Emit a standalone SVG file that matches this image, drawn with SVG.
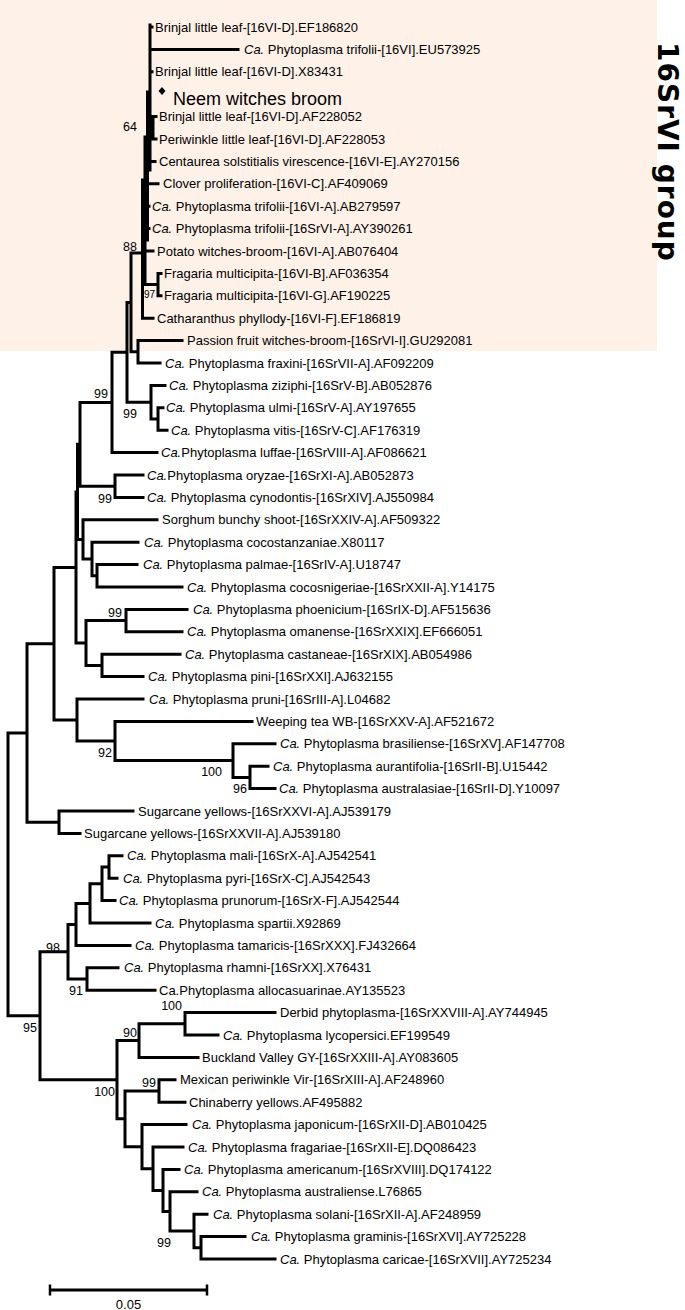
<svg xmlns="http://www.w3.org/2000/svg" width="685" height="1310" viewBox="0 0 685 1310">
<style>
.br{stroke:#000;stroke-width:3;fill:none;stroke-linecap:square}
.lb{font-family:"Liberation Sans",Arial,sans-serif;font-size:13px;fill:#000}
.bs{font-family:"Liberation Sans",Arial,sans-serif;font-size:12.5px;fill:#000;text-anchor:end}
.it{font-style:italic}
</style>
<rect x="0" y="0" width="657" height="351" fill="#FDF1E8"/>
<text transform="translate(658,42) rotate(90)" font-family="DejaVu Sans,sans-serif" font-weight="bold" font-size="28" letter-spacing="1" fill="#000">16SrVI group</text>
<g id="connectors">
<path class="br" d="M150 25V170M147.5 92V240M145 137V284.6M142.5 180V318.2
M150 49.4H238M150 27H152M150 71.8H152
M150 127.8H153M153 116.6V139M153 116.6H156M153 139H156
M150 161.4H155M147.5 183.8H158M145 206.2H149M145 228.6H149M145 251H153
M145 284.6H158M158 273.4V295.8M158 273.4H161M158 295.8H161
M142.5 318.2H153M131 253H142.5M131 253V351.8M131 351.8H138
M138 340.6V363M138 340.6H182M138 363H160
M127 302.4H131M127 302.4V402.2M127 402.2H151
M151 385.4V419M151 385.4H165M151 419H158
M158 407.8V430.2M158 407.8H163M158 430.2H167
M112 352.3H127M112 352.3V452.6M112 452.6H157
M80 402.45H112M80 402.45V486.2M80 486.2H115
M115 475V497.4M115 475H143M115 497.4H143
M77.5 444.3H80M77.5 444.3V539.4M77.5 539.4H83
M83 519.8V559M83 519.8H157M83 559H92
M92 542.2V575.8M92 542.2H138M92 575.8H97
M97 564.6V587M97 564.6H137M97 587H182
M76 491.9H77.5M76 491.9V643M76 643H86
M86 620.6V665.4M86 620.6H126M86 665.4H102
M126 609.4V631.8M126 609.4H187M126 631.8H182
M102 654.2V676.6M102 654.2H180M102 676.6H143
M54 567.4H76M54 567.4V720M54 720H77
M77 699V741M77 699H143M77 741H115
M115 721.4V760.6M115 721.4H252M115 760.6H233
M233 743.8V777.4M233 743.8H275M233 777.4H250
M250 766.2V788.6M250 766.2H268M250 788.6H275
M27 643.7H54M27 643.7V822.2M27 822.2H59
M59 811V833.4M59 811H133M59 833.4H80
M8 733H27M8 733V1015.7M8 1015.7H40
M40 951.7V1079.7M40 951.7H68M40 1079.7H117
M68 924.4V979M68 924.4H76M68 979H87
M76 903.4V945.4M76 903.4H90M76 945.4H130
M90 883.8V923M90 883.8H102M90 923H150
M102 867V900.6M102 867H109M102 900.6H115
M109 855.8V878.2M109 855.8H122M109 878.2H117
M87 967.8V990.2M87 967.8H118M87 990.2H155
M117 1040.6V1118.8M117 1040.6H139M117 1118.8H125
M139 1023.8V1057.4M139 1023.8H185M139 1057.4H198
M185 1012.6V1035M185 1012.6H275M185 1035H218
M125 1091V1146.65M125 1091H159M125 1146.65H142
M159 1079.8V1102.2M159 1079.8H175M159 1102.2H185
M142 1124.6V1168.7M142 1124.6H186M142 1168.7H153
M153 1147V1190.4M153 1147H183M153 1190.4H163
M163 1169.4V1211.4M163 1169.4H179M163 1211.4H170
M170 1191.8V1231M170 1191.8H197M170 1231H194
M194 1214.2V1247.8M194 1214.2H207M194 1247.8H201
M201 1236.6V1259M201 1236.6H245M201 1259H275"/>
</g>
<g id="bootstrap">
<text class="bs" x="137" y="131">64</text>
<text class="bs" x="137" y="251">88</text>
<text class="bs" x="155" y="298" style="font-size:10px">97</text>
<text class="bs" x="108" y="398">99</text>
<text class="bs" x="137" y="418">99</text>
<text class="bs" x="112" y="503">99</text>
<text class="bs" x="122" y="617">99</text>
<text class="bs" x="112" y="757">92</text>
<text class="bs" x="222" y="776">100</text>
<text class="bs" x="247" y="793">96</text>
<text class="bs" x="60" y="952">98</text>
<text class="bs" x="83" y="995">91</text>
<text class="bs" x="37" y="1032">95</text>
<text class="bs" x="182" y="1010">100</text>
<text class="bs" x="137" y="1037">90</text>
<text class="bs" x="115" y="1096">100</text>
<text class="bs" x="156" y="1087">99</text>
<text class="bs" x="171" y="1247">99</text>
</g>
<g id="leaf1"><text class="lb" x="155" y="31.6">Brinjal little leaf-[16VI-D].EF186820</text></g>
<g id="leaf2"><text class="lb" x="244" y="54"><tspan class="it">Ca.</tspan> Phytoplasma trifolii-[16VI].EU573925</text></g>
<g id="leaf3"><text class="lb" x="155" y="76.4">Brinjal little leaf-[16VI-D].X83431</text></g>
<g id="leaf4"><polygon points="162,87 165.5,91 162,95 158.5,91" fill="#000"/><text class="lb" x="173" y="105" style="font-size:18px">Neem witches broom</text></g>
<g id="leaf5"><text class="lb" x="159" y="121.2">Brinjal little leaf-[16VI-D].AF228052</text></g>
<g id="leaf6"><text class="lb" x="159" y="143.6">Periwinkle little leaf-[16VI-D].AF228053</text></g>
<g id="leaf7"><text class="lb" x="159" y="166">Centaurea solstitialis virescence-[16VI-E].AY270156</text></g>
<g id="leaf8"><text class="lb" x="163" y="188.4">Clover proliferation-[16VI-C].AF409069</text></g>
<g id="leaf9"><text class="lb" x="152" y="210.8"><tspan class="it">Ca.</tspan> Phytoplasma trifolii-[16VI-A].AB279597</text></g>
<g id="leaf10"><text class="lb" x="152" y="233.2"><tspan class="it">Ca.</tspan> Phytoplasma trifolii-[16SrVI-A].AY390261</text></g>
<g id="leaf11"><text class="lb" x="157" y="255.6">Potato witches-broom-[16VI-A].AB076404</text></g>
<g id="leaf12"><text class="lb" x="164" y="278">Fragaria multicipita-[16VI-B].AF036354</text></g>
<g id="leaf13"><text class="lb" x="164" y="300.4">Fragaria multicipita-[16VI-G].AF190225</text></g>
<g id="leaf14"><text class="lb" x="157" y="322.8">Catharanthus phyllody-[16VI-F].EF186819</text></g>
<g id="leaf15"><text class="lb" x="187" y="345.2">Passion fruit witches-broom-[16SrVI-I].GU292081</text></g>
<g id="leaf16"><text class="lb" x="165" y="367.6"><tspan class="it">Ca.</tspan> Phytoplasma fraxini-[16SrVII-A].AF092209</text></g>
<g id="leaf17"><text class="lb" x="169" y="390"><tspan class="it">Ca.</tspan> Phytoplasma ziziphi-[16SrV-B].AB052876</text></g>
<g id="leaf18"><text class="lb" x="166" y="412.4"><tspan class="it">Ca.</tspan> Phytoplasma ulmi-[16SrV-A].AY197655</text></g>
<g id="leaf19"><text class="lb" x="171" y="434.8"><tspan class="it">Ca.</tspan> Phytoplasma vitis-[16SrV-C].AF176319</text></g>
<g id="leaf20"><text class="lb" x="161" y="457.2"><tspan class="it">Ca.</tspan>Phytoplasma luffae-[16SrVIII-A].AF086621</text></g>
<g id="leaf21"><text class="lb" x="147" y="479.6"><tspan class="it">Ca.</tspan>Phytoplasma oryzae-[16SrXI-A].AB052873</text></g>
<g id="leaf22"><text class="lb" x="147" y="502"><tspan class="it">Ca.</tspan> Phytoplasma cynodontis-[16SrXIV].AJ550984</text></g>
<g id="leaf23"><text class="lb" x="162" y="524.4">Sorghum bunchy shoot-[16SrXXIV-A].AF509322</text></g>
<g id="leaf24"><text class="lb" x="144" y="546.8"><tspan class="it">Ca.</tspan> Phytoplasma cocostanzaniae.X80117</text></g>
<g id="leaf25"><text class="lb" x="143" y="569.2"><tspan class="it">Ca.</tspan> Phytoplasma palmae-[16SrIV-A].U18747</text></g>
<g id="leaf26"><text class="lb" x="187" y="591.6"><tspan class="it">Ca.</tspan> Phytoplasma cocosnigeriae-[16SrXXII-A].Y14175</text></g>
<g id="leaf27"><text class="lb" x="193" y="614"><tspan class="it">Ca.</tspan> Phytoplasma phoenicium-[16SrIX-D].AF515636</text></g>
<g id="leaf28"><text class="lb" x="187" y="636.4"><tspan class="it">Ca.</tspan> Phytoplasma omanense-[16SrXXIX].EF666051</text></g>
<g id="leaf29"><text class="lb" x="185" y="658.8"><tspan class="it">Ca.</tspan> Phytoplasma castaneae-[16SrXIX].AB054986</text></g>
<g id="leaf30"><text class="lb" x="148" y="681.2"><tspan class="it">Ca.</tspan> Phytoplasma pini-[16SrXXI].AJ632155</text></g>
<g id="leaf31"><text class="lb" x="149" y="703.6"><tspan class="it">Ca.</tspan> Phytoplasma pruni-[16SrIII-A].L04682</text></g>
<g id="leaf32"><text class="lb" x="256" y="726">Weeping tea WB-[16SrXXV-A].AF521672</text></g>
<g id="leaf33"><text class="lb" x="280" y="748.4"><tspan class="it">Ca.</tspan> Phytoplasma brasiliense-[16SrXV].AF147708</text></g>
<g id="leaf34"><text class="lb" x="273" y="770.8"><tspan class="it">Ca.</tspan> Phytoplasma aurantifolia-[16SrII-B].U15442</text></g>
<g id="leaf35"><text class="lb" x="279" y="793.2"><tspan class="it">Ca.</tspan> Phytoplasma australasiae-[16SrII-D].Y10097</text></g>
<g id="leaf36"><text class="lb" x="138" y="815.6">Sugarcane yellows-[16SrXXVI-A].AJ539179</text></g>
<g id="leaf37"><text class="lb" x="84" y="838">Sugarcane yellows-[16SrXXVII-A].AJ539180</text></g>
<g id="leaf38"><text class="lb" x="127" y="860.4"><tspan class="it">Ca.</tspan> Phytoplasma mali-[16SrX-A].AJ542541</text></g>
<g id="leaf39"><text class="lb" x="123" y="882.8"><tspan class="it">Ca.</tspan> Phytoplasma pyri-[16SrX-C].AJ542543</text></g>
<g id="leaf40"><text class="lb" x="119" y="905.2"><tspan class="it">Ca.</tspan> Phytoplasma prunorum-[16SrX-F].AJ542544</text></g>
<g id="leaf41"><text class="lb" x="155" y="927.6"><tspan class="it">Ca.</tspan> Phytoplasma spartii.X92869</text></g>
<g id="leaf42"><text class="lb" x="135" y="950"><tspan class="it">Ca.</tspan> Phytoplasma tamaricis-[16SrXXX].FJ432664</text></g>
<g id="leaf43"><text class="lb" x="124" y="972.4"><tspan class="it">Ca.</tspan> Phytoplasma rhamni-[16SrXX].X76431</text></g>
<g id="leaf44"><text class="lb" x="159" y="994.8">Ca.Phytoplasma allocasuarinae.AY135523</text></g>
<g id="leaf45"><text class="lb" x="280" y="1017.2">Derbid phytoplasma-[16SrXXVIII-A].AY744945</text></g>
<g id="leaf46"><text class="lb" x="223" y="1039.6"><tspan class="it">Ca.</tspan> Phytoplasma lycopersici.EF199549</text></g>
<g id="leaf47"><text class="lb" x="202" y="1062">Buckland Valley GY-[16SrXXIII-A].AY083605</text></g>
<g id="leaf48"><text class="lb" x="180" y="1084.4">Mexican periwinkle Vir-[16SrXIII-A].AF248960</text></g>
<g id="leaf49"><text class="lb" x="189" y="1106.8">Chinaberry yellows.AF495882</text></g>
<g id="leaf50"><text class="lb" x="192" y="1129.2"><tspan class="it">Ca.</tspan> Phytoplasma japonicum-[16SrXII-D].AB010425</text></g>
<g id="leaf51"><text class="lb" x="188" y="1151.6"><tspan class="it">Ca.</tspan> Phytoplasma fragariae-[16SrXII-E].DQ086423</text></g>
<g id="leaf52"><text class="lb" x="184" y="1174"><tspan class="it">Ca.</tspan> Phytoplasma americanum-[16SrXVIII].DQ174122</text></g>
<g id="leaf53"><text class="lb" x="202" y="1196.4"><tspan class="it">Ca.</tspan> Phytoplasma australiense.L76865</text></g>
<g id="leaf54"><text class="lb" x="213" y="1218.8"><tspan class="it">Ca.</tspan> Phytoplasma solani-[16SrXII-A].AF248959</text></g>
<g id="leaf55"><text class="lb" x="251" y="1241.2"><tspan class="it">Ca.</tspan> Phytoplasma graminis-[16SrXVI].AY725228</text></g>
<g id="leaf56"><text class="lb" x="280" y="1263.6"><tspan class="it">Ca.</tspan> Phytoplasma caricae-[16SrXVII].AY725234</text></g>
<g id="scalebar">
<path d="M50 1290H207" stroke="#000" stroke-width="3"/>
<path d="M50 1284.5V1295.5M207 1284.5V1295.5" stroke="#000" stroke-width="2.5"/>
<text class="lb" x="128.5" y="1309" text-anchor="middle">0.05</text>
</g>
</svg>
